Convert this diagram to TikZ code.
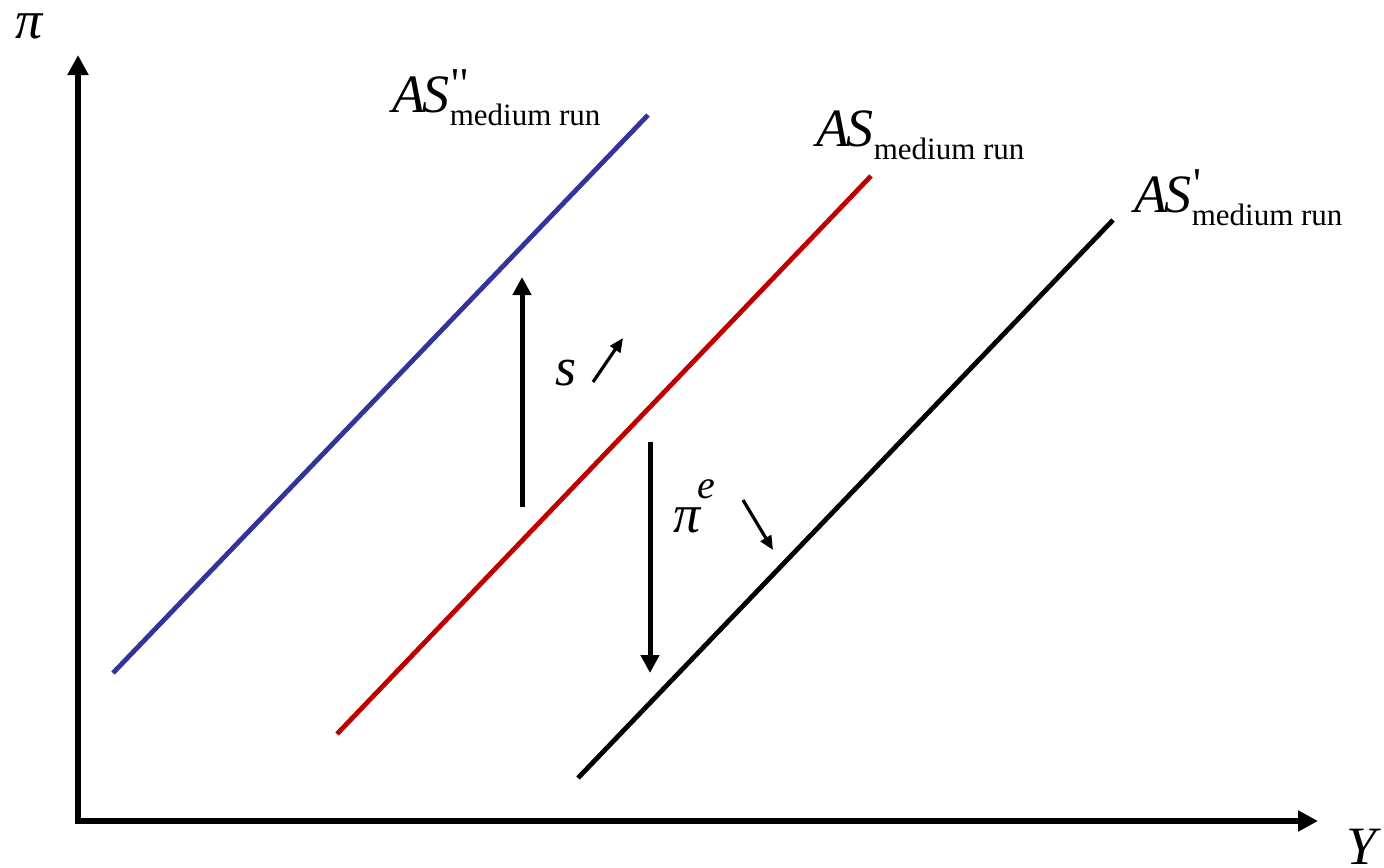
\documentclass[tikz,border=0pt]{standalone}
\usepackage{fontspec}
\setmainfont{Liberation Serif}
\usetikzlibrary{arrows.meta}
\definecolor{asblue}{RGB}{51,51,153}
\definecolor{asred}{RGB}{192,0,0}
% AS label with a mark on top and "medium run" below
\newcommand{\asmr}[1]{\textit{A\kern-1.3ptS}\rlap{\raisebox{7pt}{\fontsize{22}{22}\selectfont\kern1pt #1}}\raisebox{-6.5pt}{\fontsize{15.5}{16}\selectfont medium run}}
\newcommand{\pr}{\textquotesingle}

\begin{document}
\begin{tikzpicture}[x=0.5pt,y=-0.5pt,font=\fontsize{27}{32}\selectfont,
  lab/.style={inner sep=0pt,anchor=base west},
  curve/.style={line width=2.4pt,line cap=butt},
  shiftarrow/.style={line width=2.5pt,-{Triangle[length=9pt,width=9pt]}},
  small/.style={line width=1.6pt,-{Triangle[length=7pt,width=6pt]}}]
\useasboundingbox (0,0) rectangle (1384,867);
% axes
\coordinate (O) at (78,821);
\coordinate (ytop) at (78,55);
\coordinate (xend) at (1318,821);
\draw[line width=3pt,line join=miter,{Triangle[length=10pt,width=10pt]}-{Triangle[length=10pt,width=10pt]}] (ytop) -- (O) -- (xend);
\node[lab] (pilab) at (15,38) {\textit{π}};
\node[lab] (ylab) at (1346,864) {\textit{Y}};
% the three AS curves
\draw[curve,asblue] (113,673) -- (648,115);
\draw[curve,asred] (337,734) -- (871,176);
\draw[curve] (578,778) -- (1113,220);
\node[lab] (astwo) at (392,112) {\asmr{\pr\kern0.5pt\pr}};
\node[lab] (as) at (816,146) {\asmr{}};
\node[lab] (asone) at (1134,212) {\asmr{\pr}};
% shifts
\draw[shiftarrow] (522,507) -- (522,277);
\draw[shiftarrow] (650,442) -- (650,673);
\node[lab] (slab) at (555,385) {\textit{s}};
\draw[small] (593,382) -- (623,338);
\node[lab] (pielab) at (673,532) {\textit{π}\kern-2pt\raisebox{17pt}{\fontsize{20}{22}\selectfont\textit{e}}};
\draw[small] (743,500) -- (773,550);
\end{tikzpicture}
\end{document}
